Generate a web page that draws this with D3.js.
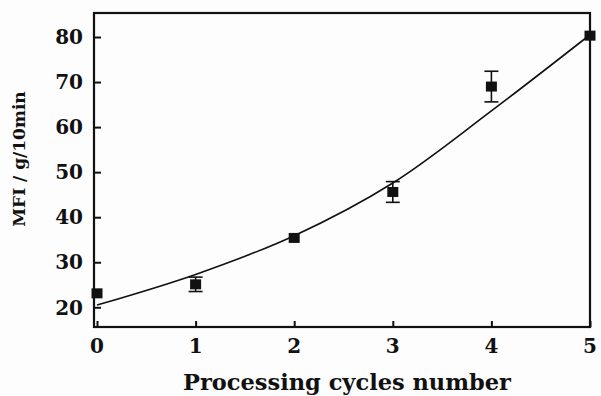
<!DOCTYPE html>
<html>
<head>
<meta charset="utf-8">
<script src="https://cdn.jsdelivr.net/npm/d3@7"></script>
<style>
  html, body { margin: 0; padding: 0; background: #fdfdfd; }
  svg { display: block; }
  text { font-family: "DejaVu Serif", "Liberation Serif", serif; fill: #111; }
</style>
</head>
<body>
<svg id="chart" width="601" height="396"></svg>
<script>
// Melt flow index after repeated processing cycles
const cycles   = [0, 1, 2, 3, 4, 5];
const mfi      = [23.1, 25.1, 35.4, 45.6, 69.0, 80.3];
const mfiError = [0, 1.6, 0, 2.3, 3.4, 0];

// Fitted trend line, sampled at each cycle
const fitCycles = [0, 1, 2, 3, 4, 5];
const fitMfi    = [20.5, 27.3, 35.9, 47.6, 63.6, 80.5];

const xTicks = [0, 1, 2, 3, 4, 5];
const yTicks = [20, 30, 40, 50, 60, 70, 80];

const svg = d3.select("#chart");

const frame = { left: 94, right: 590, top: 13, bottom: 327 };

const x = d3.scaleLinear().domain([0, 5]).range([97, 590]);
const y = d3.scaleLinear().domain([20, 80]).range([307.3, 37]);

// Plot frame
svg.append("rect")
  .attr("x", frame.left).attr("y", frame.top)
  .attr("width", frame.right - frame.left)
  .attr("height", frame.bottom - frame.top)
  .attr("fill", "none").attr("stroke", "#111").attr("stroke-width", 2.2);

// Y axis: inward ticks along the left edge
const yAxis = d3.axisRight(y).tickValues(yTicks).tickSize(7).tickFormat("");
const gy = svg.append("g").attr("transform", `translate(${frame.left},0)`).call(yAxis);
gy.select(".domain").remove();
gy.selectAll(".tick line").attr("stroke", "#111").attr("stroke-width", 2);

svg.append("g").selectAll("text").data(yTicks).join("text")
  .attr("x", 83).attr("y", d => y(d)).attr("dy", "0.36em")
  .attr("text-anchor", "end")
  .attr("font-size", 20).attr("font-weight", "bold")
  .text(d => d);

// X axis: inward ticks along the bottom edge
const xAxis = d3.axisTop(x).tickValues(xTicks).tickSize(6).tickFormat("");
const gx = svg.append("g").attr("transform", `translate(0,${frame.bottom})`).call(xAxis);
gx.select(".domain").remove();
gx.selectAll(".tick line").attr("stroke", "#111").attr("stroke-width", 2);

svg.append("g").selectAll("text").data(xTicks).join("text")
  .attr("x", d => x(d)).attr("y", 353)
  .attr("text-anchor", "middle")
  .attr("font-size", 20).attr("font-weight", "bold")
  .text(d => d);

// Axis titles
svg.append("text")
  .attr("x", 347).attr("y", 390)
  .attr("text-anchor", "middle")
  .attr("font-size", 22.5).attr("font-weight", "bold")
  .text("Processing cycles number");

svg.append("text")
  .attr("transform", "translate(25,159) rotate(-90)")
  .attr("text-anchor", "middle")
  .attr("font-size", 17).attr("font-weight", "bold")
  .text("MFI / g/10min");

// Trend curve
const fit = fitCycles.map((c, i) => [c, fitMfi[i]]);
svg.append("path")
  .datum(fit)
  .attr("fill", "none").attr("stroke", "#111").attr("stroke-width", 1.6)
  .attr("d", d3.line().x(d => x(d[0])).y(d => y(d[1])).curve(d3.curveCatmullRom.alpha(0.5)));

// Measured points with error bars
const pts = cycles.map((c, i) => ({ c, v: mfi[i], e: mfiError[i] }));
const bars = svg.append("g").selectAll("g").data(pts.filter(d => d.e > 0)).join("g")
  .attr("stroke", "#111").attr("stroke-width", 1.6);
bars.append("line")
  .attr("x1", d => x(d.c)).attr("x2", d => x(d.c))
  .attr("y1", d => y(d.v + d.e)).attr("y2", d => y(d.v - d.e));
bars.append("line")
  .attr("x1", d => x(d.c) - 7).attr("x2", d => x(d.c) + 7)
  .attr("y1", d => y(d.v + d.e)).attr("y2", d => y(d.v + d.e));
bars.append("line")
  .attr("x1", d => x(d.c) - 7).attr("x2", d => x(d.c) + 7)
  .attr("y1", d => y(d.v - d.e)).attr("y2", d => y(d.v - d.e));

svg.append("g").selectAll("rect").data(pts).join("rect")
  .attr("x", d => x(d.c) - 5.5).attr("y", d => y(d.v) - 5)
  .attr("width", 11).attr("height", 10)
  .attr("fill", "#111");
</script>
</body>
</html>
